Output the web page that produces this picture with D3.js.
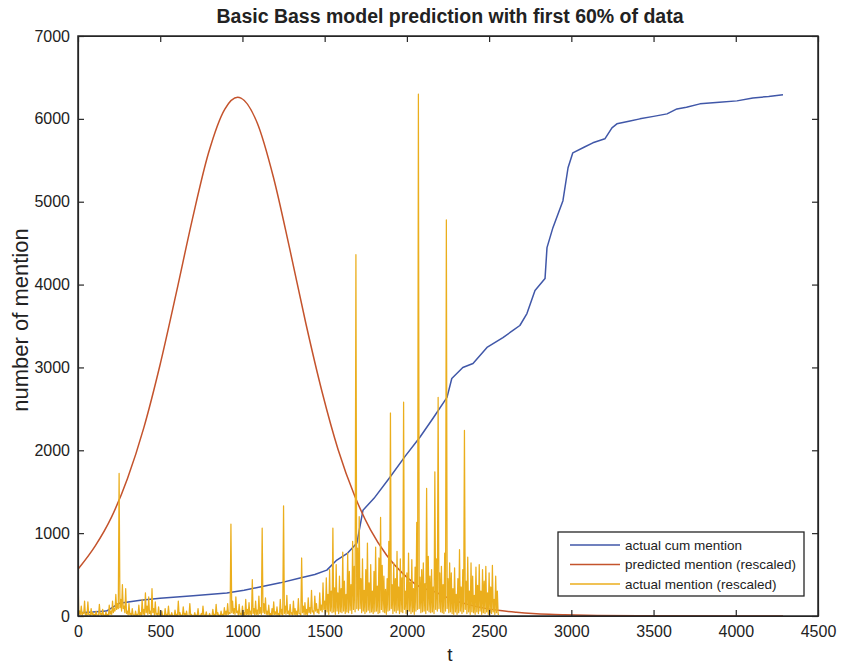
<!DOCTYPE html>
<html>
<head>
<meta charset="utf-8">
<script src="https://cdn.jsdelivr.net/npm/d3@7"></script>
<style>
  body { margin: 0; background: #fff; }
  text { font-family: "Liberation Sans", Arial, sans-serif; fill: #222; }
</style>
</head>
<body>
<div id="app"></div>
<script>
// Basic Bass model prediction, first 60% of data

// actual cumulative mentions: [t, count]
const cumT = [0, 90, 173, 252, 380, 499, 700, 905, 1010, 1106, 1230, 1350, 1440, 1513, 1574, 1640, 1696, 1733,
  1800, 1897, 1990, 2079, 2160, 2244, 2273, 2340, 2402, 2487, 2584, 2645, 2687, 2730, 2779, 2840, 2852,
  2888, 2949, 2980, 3009, 3080, 3131, 3204, 3247, 3277, 3350, 3417, 3500, 3582, 3642, 3700, 3782, 3900,
  4007, 4104, 4200, 4287];
const cumV = [40, 48, 60, 155, 190, 215, 245, 277, 310, 350, 400, 458, 500, 554, 675, 760, 880, 1277,
  1420, 1675, 1930, 2157, 2390, 2639, 2867, 3000, 3048, 3241, 3361, 3446, 3506, 3650, 3928, 4072, 4446,
  4687, 5012, 5410, 5590, 5660, 5711, 5759, 5892, 5940, 5970, 6000, 6030, 6060, 6120, 6140, 6181, 6200,
  6217, 6253, 6270, 6290];

// predicted mention (rescaled)
const predT = [0, 104, 203, 301, 400, 498, 597, 696, 794, 893, 971, 991, 1090, 1188, 1287, 1385, 1484, 1582,
  1681, 1779, 1878, 1976, 2075, 2173, 2272, 2370, 2469, 2567, 2666, 2764, 2863, 2961, 3158, 3454, 3946, 4287];
const predV = [565, 843, 1190, 1660, 2270, 3023, 3893, 4793, 5590, 6118, 6260, 6250, 5950, 5298, 4436, 3536,
  2706, 2007, 1457, 1039, 731, 511, 356, 290, 200, 140, 95, 65, 45, 30, 20, 14, 6, 2, 0, 0];

// actual mention (rescaled), one value every 5 steps from t = 0 (20 per row)
const mentionStep = 5;
const mentionV = [
  500, 10, 60, 20, 120, 5, 40, 30, 180, 10, 30, 0, 170, 20, 20, 5, 90, 10, 40, 0,
  20, 0, 60, 10, 10, 0, 140, 20, 30, 0, 80, 10, 10, 0, 50, 5, 20, 0, 130, 20,
  60, 20, 180, 40, 90, 60, 260, 80, 150, 90, 1720, 100, 200, 60, 380, 90, 120, 40, 330, 30,
  60, 10, 150, 20, 30, 0, 90, 10, 10, 0, 60, 5, 20, 0, 130, 10, 40, 0, 200, 20,
  80, 10, 280, 40, 120, 20, 230, 30, 60, 0, 330, 40, 90, 10, 170, 20, 30, 0, 110, 10,
  10, 0, 60, 0, 0, 0, 90, 5, 20, 0, 120, 10, 10, 0, 40, 0, 0, 0, 70, 5,
  20, 0, 180, 10, 40, 0, 10, 0, 110, 10, 30, 0, 60, 0, 0, 0, 150, 10, 20, 0,
  0, 0, 40, 0, 10, 0, 90, 5, 0, 0, 30, 0, 120, 10, 10, 0, 50, 0, 0, 0,
  30, 0, 0, 0, 80, 5, 20, 0, 140, 10, 40, 0, 10, 0, 60, 5, 20, 0, 100, 10,
  60, 10, 150, 20, 40, 30, 1110, 40, 180, 30, 90, 20, 230, 40, 60, 10, 140, 20, 30, 10,
  120, 10, 40, 0, 200, 20, 80, 10, 160, 20, 60, 10, 440, 30, 90, 10, 180, 20, 70, 10,
  240, 30, 100, 20, 1060, 40, 150, 30, 220, 20, 60, 10, 130, 10, 30, 0, 90, 10, 170, 20,
  50, 10, 110, 10, 30, 0, 200, 20, 80, 10, 1330, 30, 120, 20, 250, 30, 60, 10, 140, 20,
  40, 10, 180, 20, 90, 10, 60, 10, 210, 30, 30, 10, 700, 40, 120, 20, 160, 20, 80, 10,
  220, 40, 100, 30, 310, 50, 60, 20, 240, 60, 150, 40, 80, 30, 280, 70, 130, 50, 400, 80,
  180, 30, 460, 50, 260, 20, 560, 60, 300, 40, 1060, 50, 340, 20, 620, 60, 280, 30, 480, 50,
  330, 40, 770, 60, 420, 30, 260, 50, 760, 40, 540, 70, 380, 30, 900, 80, 600, 50, 4360, 90,
  820, 70, 1200, 90, 450, 40, 690, 60, 310, 30, 560, 50, 880, 70, 400, 40, 620, 50, 300, 30,
  540, 50, 830, 60, 360, 30, 700, 40, 1190, 80, 610, 50, 480, 40, 320, 20, 450, 60, 900, 70,
  2450, 90, 380, 30, 640, 60, 450, 40, 780, 70, 350, 30, 690, 50, 460, 40, 2580, 80, 300, 30,
  520, 50, 760, 60, 410, 30, 680, 50, 330, 20, 590, 60, 1130, 80, 6300, 90, 470, 40, 560, 50,
  640, 60, 390, 30, 1540, 70, 720, 50, 480, 40, 560, 50, 350, 30, 1740, 80, 690, 60, 2640, 90,
  520, 50, 600, 40, 380, 30, 760, 60, 4780, 90, 450, 40, 640, 50, 520, 30, 330, 20, 580, 50,
  260, 20, 450, 40, 800, 60, 350, 30, 560, 50, 2240, 80, 420, 30, 710, 50, 300, 20, 640, 50,
  480, 40, 250, 20, 590, 50, 370, 30, 620, 60, 300, 20, 560, 40, 420, 30, 600, 50, 280, 20,
  520, 40, 350, 30, 610, 50, 200, 20, 480, 40, 300, 20, 20
];

const xTicks = [0, 500, 1000, 1500, 2000, 2500, 3000, 3500, 4000, 4500];
const yTicks = [0, 1000, 2000, 3000, 4000, 5000, 6000, 7000];
const seriesNames = ["actual cum mention", "predicted mention (rescaled)", "actual mention (rescaled)"];
const seriesColors = ["#4057a8", "#c4532c", "#ebae1c"];

const width = 843, height = 666;
const margin = { top: 36, right: 25, bottom: 50, left: 78 };
const innerW = width - margin.left - margin.right;
const innerH = height - margin.top - margin.bottom;

const svg = d3.select("#app").append("svg")
  .attr("width", width)
  .attr("height", height);

const bounds = svg.append("g")
  .attr("transform", `translate(${margin.left},${margin.top})`);

const x = d3.scaleLinear().domain([0, 4500]).range([0, innerW]);
const y = d3.scaleLinear().domain([0, 7000]).range([innerH, 0]);

bounds.append("clipPath").attr("id", "plotclip")
  .append("rect").attr("width", innerW).attr("height", innerH);

const plot = bounds.append("g").attr("clip-path", "url(#plotclip)");

const cumData = cumT.map((t, i) => [t, cumV[i]]);
const predData = predT.map((t, i) => [t, predV[i]]);
const mentionData = mentionV.map((v, i) => [i * mentionStep, v]);

const curves = [d3.curveLinear, d3.curveMonotoneX, d3.curveLinear];
[cumData, predData, mentionData].forEach((data, i) => {
  plot.append("path")
    .datum(data)
    .attr("fill", "none")
    .attr("stroke", seriesColors[i])
    .attr("stroke-width", i === 2 ? 1.25 : 1.5)
    .attr("stroke-linejoin", "round")
    .attr("d", d3.line().x(d => x(d[0])).y(d => y(d[1])).curve(curves[i]));
});

// axes, matlab style: box with ticks inside on every side
const tickLen = 6;
bounds.append("g")
  .attr("transform", `translate(0,${innerH})`)
  .call(d3.axisBottom(x).tickValues(xTicks).tickFormat(d3.format("d"))
    .tickSizeInner(-tickLen).tickSizeOuter(0).tickPadding(10));
bounds.append("g")
  .call(d3.axisLeft(y).tickValues(yTicks).tickFormat(d3.format("d"))
    .tickSizeInner(-tickLen).tickSizeOuter(0).tickPadding(8));
bounds.append("g")
  .call(d3.axisTop(x).tickValues(xTicks).tickSizeInner(-tickLen).tickSizeOuter(0).tickFormat(""));
bounds.append("g")
  .attr("transform", `translate(${innerW},0)`)
  .call(d3.axisRight(y).tickValues(yTicks).tickSizeInner(-tickLen).tickSizeOuter(0).tickFormat(""));

bounds.selectAll(".domain, .tick line").attr("stroke", "#262626").attr("stroke-width", 1.2);
bounds.selectAll(".tick text").attr("font-size", 16).attr("fill", "#222");

bounds.append("rect")
  .attr("width", innerW).attr("height", innerH)
  .attr("fill", "none").attr("stroke", "#262626").attr("stroke-width", 1.5);

// labels
svg.append("text")
  .attr("x", margin.left + innerW / 2 + 2).attr("y", 23)
  .attr("text-anchor", "middle")
  .attr("font-size", 19.5).attr("font-weight", "bold")
  .text("Basic Bass model prediction with first 60% of data");

svg.append("text")
  .attr("x", margin.left + innerW / 2 + 2).attr("y", 661)
  .attr("text-anchor", "middle")
  .attr("font-size", 19)
  .text("t");

svg.append("text")
  .attr("transform", `translate(28,${margin.top + innerH / 2 - 6}) rotate(-90)`)
  .attr("text-anchor", "middle")
  .attr("font-size", 22)
  .text("number of mention");

// legend
const leg = svg.append("g").attr("transform", "translate(558,532)");
leg.append("rect")
  .attr("width", 246).attr("height", 64)
  .attr("fill", "#fff").attr("stroke", "#262626").attr("stroke-width", 1.3);
seriesNames.forEach((name, i) => {
  const row = leg.append("g").attr("transform", `translate(0,${13 + i * 19.5})`);
  row.append("line")
    .attr("x1", 12).attr("x2", 62)
    .attr("stroke", seriesColors[i]).attr("stroke-width", 1.3);
  row.append("text")
    .attr("x", 67).attr("y", 4.5)
    .attr("font-size", 13.5)
    .text(name);
});
</script>
</body>
</html>
